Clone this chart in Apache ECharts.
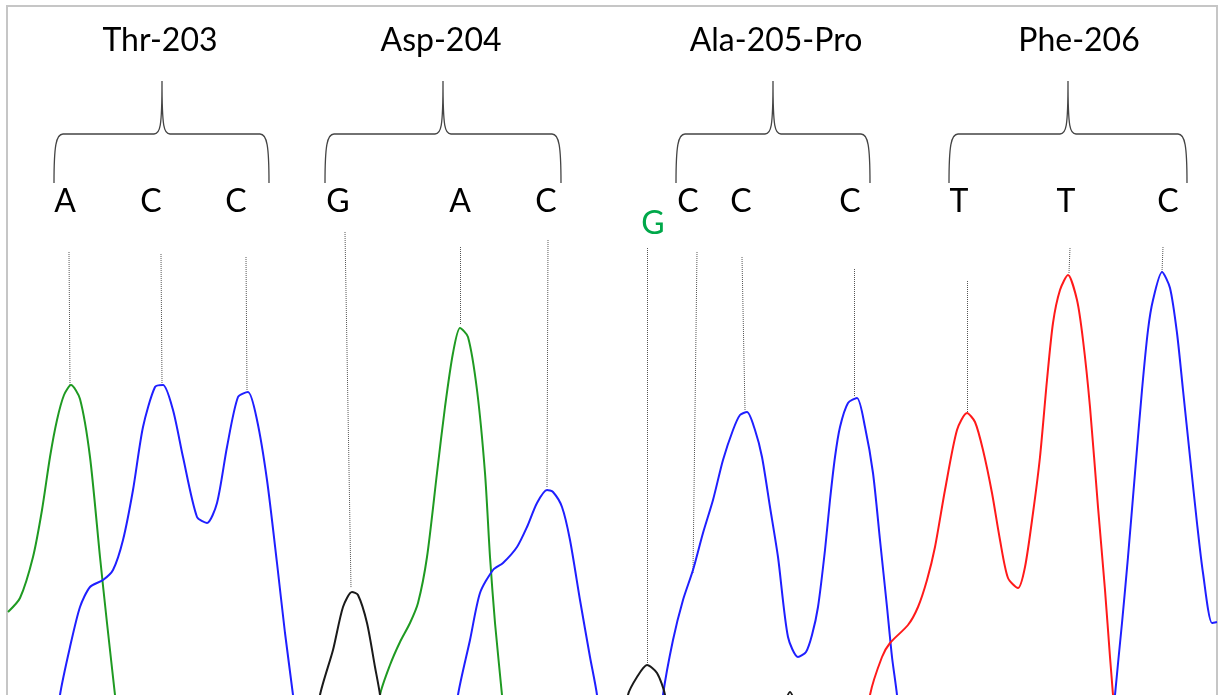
<!DOCTYPE html>
<html>
<head>
<meta charset="utf-8">
<script src="https://cdn.jsdelivr.net/npm/echarts@6/dist/echarts.min.js"></script>
<style>html,body{margin:0;padding:0;background:#fff}#c{width:1219px;height:695px}</style>
</head>
<body>
<div id="c"></div>
<script>
// Trace data: [scan position, signal intensity]
const traceGreen1 = [[8,83],[20,97],[33,138],[42,185],[50,238],[57,275],[64,300],[71,310],[80,296],[90,238],[100,138],[107,72],[115,0],[120,-45]];
const traceBlue1 = [[56,-45],[60,0],[70,48],[80,88],[90,108],[103,115],[113,125],[123,155],[133,205],[143,268],[155,308],[163,310],[173,285],[183,238],[197,178],[207,172],[217,192],[227,248],[238,298],[248,303],[257,275],[267,215],[277,132],[285,62],[293,0],[298,-45]];
const traceBlack1 = [[315,-45],[320,0],[333,45],[343,88],[352,103],[358,100],[367,72],[375,28],[380,0],[384,-45]];
const traceGreen2 = [[376,-45],[380,0],[390,30],[400,53],[410,72],[418,92],[427,138],[437,222],[445,288],[453,342],[460,367],[468,358],[477,305],[485,222],[490,138],[495,72],[502,0],[506,-45]];
const traceBlue2 = [[454,-45],[458,0],[470,55],[480,102],[493,125],[503,132],[517,148],[527,168],[537,192],[547,205],[553,203],[562,188],[570,155],[580,95],[590,38],[597,0],[601,-45]];
const traceBlack2 = [[624,-45],[628,0],[637,18],[647,30],[657,22],[665,0],[669,-45]];
const traceBlack3 = [[784,-10],[790,3],[796,-10]];
const traceBlue3 = [[659,-45],[663,0],[673,55],[683,95],[693,125],[703,162],[713,195],[723,235],[733,265],[740,280],[747,283],[755,265],[762,238],[770,188],[778,138],[788,58],[798,38],[806,43],[812,60],[818,88],[825,145],[830,195],[835,238],[840,268],[848,292],[857,297],[865,268],[873,222],[880,155],[887,88],[892,38],[897,0],[901,-45]];
const traceRed = [[866,-45],[870,0],[882,38],[890,52],[908,70],[918,88],[927,115],[935,148],[945,205],[957,265],[967,282],[975,273],[983,245],[992,202],[1000,155],[1008,117],[1018,107],[1025,128],[1033,182],[1040,238],[1047,315],[1053,372],[1060,405],[1068,420],[1077,395],[1083,355],[1090,288],[1098,188],[1105,105],[1110,38],[1113,0],[1116,-45]];
const traceBlue4 = [[1112,-45],[1115,0],[1122,72],[1128,138],[1135,222],[1142,305],[1148,365],[1153,395],[1162,423],[1170,407],[1177,362],[1183,305],[1190,238],[1197,172],[1203,122],[1212,72],[1217,73]];

// Base calls: [position, label]
const baseCalls = [[65,'A'],[151,'C'],[236,'C'],[338,'G'],[460,'A'],[546,'C'],[688,'C'],[741,'C'],[850,'C'],[959,'T'],[1066,'T'],[1168,'C']];
const altCall = [[653,'G']];
// Codon titles: [center position, text]
const codons = [[160,'Thr-203'],[441,'Asp-204'],[776,'Ala-205-Pro'],[1079,'Phe-206']];
// Braces: [left, tip, right]
const braces = [[54,162,269],[325,443,561],[676,773,870],[949,1068,1187]];
// Peak guide lines: [[x1,y1],[x2,y2]]
const guides = [
  [[69,443],[70,310]],[[161,441],[162,312]],[[246,438],[247,305]],[[345,463],[351,107]],
  [[460,448],[460,370]],[[548,455],[547,207]],[[647,447],[647,32]],[[697,443],[693,122]],
  [[742,438],[745,285]],[[854,426],[854,298]],[[967,414],[967,282]],[[1070,447],[1069,422]],[[1163,448],[1162,423]]
];
const LETTER_Y = 493, ALT_Y = 471, TITLE_Y = 654;
const BRACE_END = 512, BRACE_BAR = 561, BRACE_TIP = 614;

const FONT = 'Lato, "Open Sans", sans-serif';
const chart = echarts.init(document.getElementById('c'));

function traceSeries(data, color) {
  return {type:'line', data:data, smooth:0.25, symbol:'none', clip:true, silent:true,
    lineStyle:{color:color, width:2}, z:3};
}
const textLabel = {show:true, position:'inside', formatter:p=>p.name, fontFamily:FONT, fontSize:32, color:'#000', opacity:1};

const option = {
  animation:false,
  backgroundColor:'#ffffff',
  grid:{left:0,right:0,top:0,bottom:0},
  xAxis:{type:'value',min:0,max:1219,show:false},
  yAxis:{type:'value',min:0,max:695,show:false},
  graphic:[{type:'rect', shape:{x:7,y:6,width:1210,height:720}, style:{fill:'none',stroke:'#c6c6c6',lineWidth:2}, z:-1}],
  series:[
    {type:'lines', coordinateSystem:'cartesian2d', silent:true, z:2,
      lineStyle:{color:'#555', width:1, type:[1,1], opacity:1},
      data: guides.map(g=>({coords:g}))},
    traceSeries(traceGreen1,'#1f9a22'),
    traceSeries(traceGreen2,'#1f9a22'),
    traceSeries(traceBlue1,'#1f1fff'),
    traceSeries(traceBlue2,'#1f1fff'),
    traceSeries(traceBlue3,'#1f1fff'),
    traceSeries(traceBlue4,'#1f1fff'),
    traceSeries(traceBlack1,'#1a1a1a'),
    traceSeries(traceBlack2,'#1a1a1a'),
    traceSeries(traceBlack3,'#1a1a1a'),
    traceSeries(traceRed,'#ff1a1a'),
    {type:'scatter', symbolSize:1, itemStyle:{color:'rgba(0,0,0,0)', opacity:1}, silent:true,
      data: baseCalls.map(b=>({value:[b[0],LETTER_Y], name:b[1]})).concat(altCall.map(b=>({value:[b[0],ALT_Y], name:b[1], label:{color:'#00a84a'}}))),
      label:textLabel},
    {type:'scatter', symbolSize:1, itemStyle:{color:'rgba(0,0,0,0)', opacity:1}, silent:true,
      data: codons.map(c=>({value:[c[0],TITLE_Y], name:c[1]})),
      label:textLabel},
    {type:'custom', silent:true,
      data: braces,
      renderItem:function(params, api){
        const L = api.coord([api.value(0), BRACE_END]);
        const bar = api.coord([api.value(0), BRACE_BAR])[1];
        const T = api.coord([api.value(1), BRACE_TIP]);
        const R = api.coord([api.value(2), BRACE_END]);
        const tx = T[0];
        const p = [
          'M', L[0], L[1],
          'C', L[0], bar+12, L[0]+2, bar, L[0]+9, bar,
          'L', tx-8, bar,
          'C', tx-2, bar, tx, bar-6, tx, T[1],
          'C', tx, bar-6, tx+2, bar, tx+8, bar,
          'L', R[0]-9, bar,
          'C', R[0]-2, bar, R[0], bar+12, R[0], R[1]
        ].join(' ');
        return {type:'path', shape:{pathData:p}, style:{fill:'none', stroke:'#444', lineWidth:1.3}};
      }}
  ]
};
chart.setOption(option);
</script>
</body>
</html>
